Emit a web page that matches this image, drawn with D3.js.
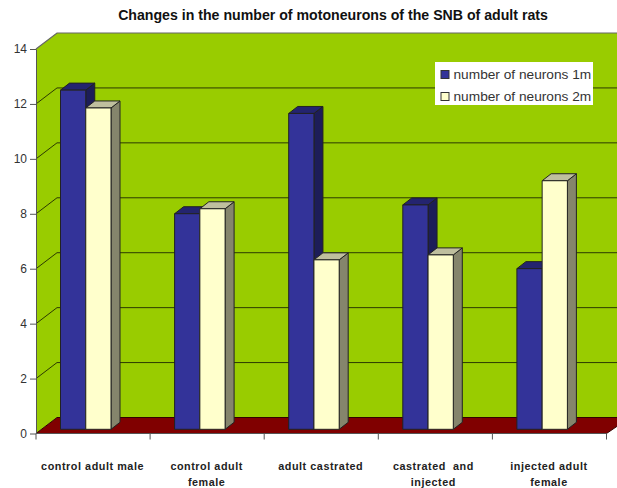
<!DOCTYPE html>
<html><head><meta charset="utf-8">
<script src="https://cdn.jsdelivr.net/npm/d3@7"></script>
<style>html,body{margin:0;background:#fff}svg{display:block}text{font-family:"Liberation Sans",Arial,sans-serif}</style>
</head><body><svg id="c" width="617" height="488"></svg>
<script>
const title = "Changes in the number of motoneurons of the SNB of adult rats";
const categories = ["control adult male","control adult female","adult castrated","castrated  and injected","injected adult female"];
const categoryLines = [["control adult male"],["control adult","female"],["adult castrated"],["castrated  and","injected"],["injected adult","female"]];
const seriesNames = ["number of neurons 1m","number of neurons 2m"];
const neurons1m = [12.35,7.85,11.5,8.17,5.85];
const neurons2m = [11.7,8.03,6.17,6.35,9.05];
const yTicks = [0,2,4,6,8,10,12,14];

const svg = d3.select("#c");
const dx = 21, dy = -16;           // wall depth
const bdx = 9, bdy = -7;           // bar depth
const left = 36, right = 606.5, y0 = 433.5, y14 = 49;
const x = d3.scaleBand().domain(categories).range([left,right]);
const y = d3.scaleLinear().domain([0,14]).range([y0,y14]);
const pts = a => a.map(p=>p.join(",")).join(" ");

// wall, left side, floor
svg.append("polygon").attr("points",pts([[left,y14],[left+dx,y14+dy],[630,y14+dy],[630,y0+dy],[left+dx,y0+dy],[left,y0]])).attr("fill","#99cc00");
svg.append("polygon").attr("points",pts([[left,y0],[left+dx,y0+dy],[630,y0+dy],[right,y0]])).attr("fill","#800000").attr("stroke","#300").attr("stroke-width",1);

// gridlines
yTicks.forEach(t=>{
  if(t===0) return;
  svg.append("polyline").attr("points",pts([[left,y(t)],[left+dx,y(t)+dy],[630,y(t)+dy]]))
    .attr("fill","none").attr("stroke",t===14?"#666":"#2c3a00").attr("stroke-width",t===14?1.2:1);
});

// axes
const yAxis = d3.axisLeft(y).tickValues(yTicks).tickSize(6).tickSizeOuter(0).tickPadding(3);
const gy = svg.append("g").attr("transform",`translate(${left},0)`).call(yAxis);
gy.selectAll("text").attr("font-size",12).attr("fill","#333");
gy.selectAll("line,path").attr("stroke","#555");
const tickX = d3.range(categories.length+1).map(i=>left+i*x.step());
svg.append("line").attr("x1",left).attr("x2",right).attr("y1",y0).attr("y2",y0).attr("stroke","#555");
svg.selectAll(".xt").data(tickX).join("line").attr("x1",d=>d).attr("x2",d=>d).attr("y1",y0).attr("y2",y0+6).attr("stroke","#555");

// bars
const barBase = 429.3;
const unit = y(0)-y(1);
const barY = v => barBase - v*unit;
const colors = [
  {front:"#333399",top:"#24246f",side:"#1d1d58"},
  {front:"#ffffcc",top:"#bfbf9e",side:"#85856c"}
];
const inner = d3.scaleBand().domain([0,1]).range([24.5,75]);
categories.forEach((c,i)=>{
  [neurons1m[i],neurons2m[i]].forEach((v,s)=>{
    const xa = x(c)+inner(s), bw = inner.bandwidth(), t = barY(v), col = colors[s];
    const g = svg.append("g").attr("stroke","#222").attr("stroke-width",1).attr("stroke-linejoin","round");
    g.append("polygon").attr("points",pts([[xa+bw,t],[xa+bw+bdx,t+bdy],[xa+bw+bdx,barBase+bdy],[xa+bw,barBase]])).attr("fill",col.side);
    g.append("polygon").attr("points",pts([[xa,t],[xa+bdx,t+bdy],[xa+bw+bdx,t+bdy],[xa+bw,t]])).attr("fill",col.top);
    g.append("rect").attr("x",xa).attr("y",t).attr("width",bw).attr("height",barBase-t).attr("fill",col.front);
  });
});

// category labels
categoryLines.forEach((ls,i)=>{
  ls.forEach((l,j)=>{
    svg.append("text").attr("x",x(categories[i])+x.bandwidth()/2-0.5-(i===3?1.5:0)).attr("y",470+j*15.5)
      .attr("text-anchor","middle").attr("font-size",10.8).attr("font-weight","bold").attr("letter-spacing",0.55).attr("fill","#222")
      .style("white-space","pre").text(l);
  });
});

// title
svg.append("text").attr("x",333).attr("y",20).attr("text-anchor","middle").attr("font-size",14.15).attr("font-weight","bold").attr("fill","#111").text(title);

// legend
svg.append("rect").attr("x",435).attr("y",62).attr("width",158).attr("height",43).attr("fill","#fff");
seriesNames.forEach((n,i)=>{
  const ly = 74.5+i*22;
  svg.append("rect").attr("x",441).attr("y",ly-4).attr("width",8).attr("height",8).attr("fill",colors[i].front).attr("stroke","#333");
  svg.append("text").attr("x",453.5).attr("y",ly+4.5).attr("font-size",13.7).attr("fill","#333").text(n);
});
</script></body></html>
